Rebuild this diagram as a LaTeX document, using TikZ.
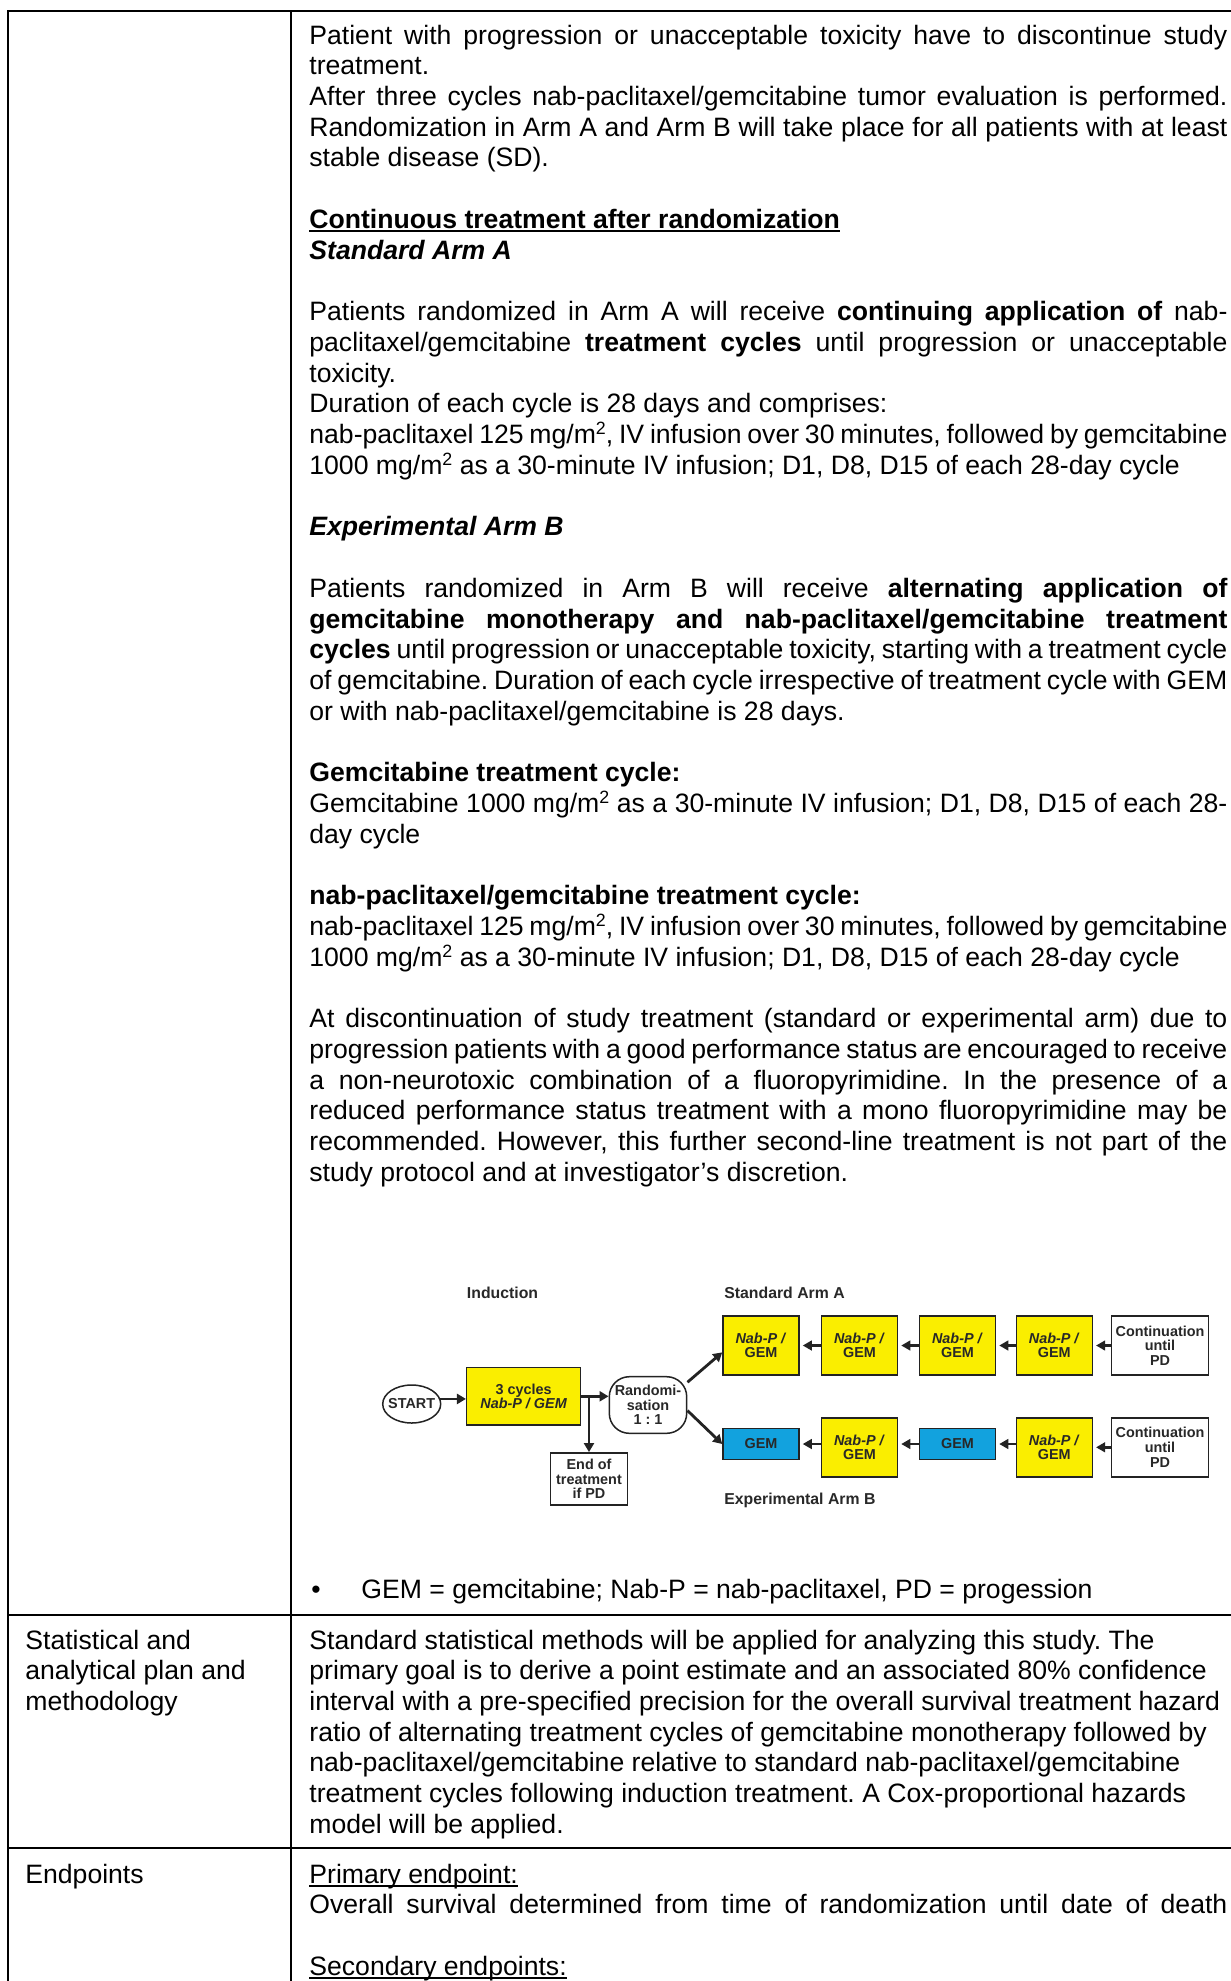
\documentclass[tikz,border=0pt]{standalone}
\usepackage{fontspec}
\setmainfont{Liberation Sans}
\usetikzlibrary{arrows.meta,shapes.geometric}

\definecolor{armyellow}{RGB}{250,238,0}
\definecolor{armblue}{RGB}{18,162,222}
\definecolor{diagtext}{RGB}{40,40,40}
\definecolor{diagline}{RGB}{35,35,35}

\frenchspacing
\newlength\colw \setlength\colw{459pt}
% full-width justified line
\newcommand\jl[1]{\makebox[\colw][s]{#1}}
% word-processor style underline
\newcommand\ulx[1]{\leavevmode\setbox0\hbox{#1}\rlap{\rule[-0.145em]{\wd0}{0.08em}}\box0}
% square metres
\newcommand\msq{m\raisebox{0.34em}{\fontsize{8.9pt}{9pt}\selectfont 2}}
\newcommand\bodyfont{\fontsize{13.3pt}{15.37pt}\selectfont}
\newcommand\diagfont{\fontsize{7.2pt}{7.3pt}\selectfont\bfseries}
\newcommand\labfont{\fontsize{7.9pt}{9pt}\selectfont\bfseries}

\tikzset{
  body/.style={anchor=base west, inner sep=0pt, font=\bodyfont},
  grid/.style={line width=1pt, line cap=rect},
  dnode/.style={draw=diagline, line width=0.75pt, inner sep=0pt, align=center, font=\diagfont, text=diagtext},
  cyc/.style={dnode, fill=armyellow, minimum width=38pt, minimum height=29.5pt},
  gem/.style={dnode, fill=armblue, minimum width=38pt, minimum height=15.7pt},
  cont/.style={dnode, fill=white, minimum width=48.5pt, minimum height=29.5pt},
  lab/.style={anchor=base, inner sep=0pt, font=\labfont, text=diagtext},
  flow/.style={draw=diagline, line width=1.4pt, -{Triangle[length=4.5pt,width=5pt]}},
  link/.style={draw=diagline, line width=1.2pt, -{Triangle[length=4.5pt,width=4.8pt]}, shorten >=1.5pt},
}

\begin{document}
\begin{tikzpicture}[x=0.5pt, y=-0.5pt]
\useasboundingbox (0,0) rectangle (1231,1981);
\fill[white] (0,0) rectangle (1231,1981);

% table rules
\draw[grid] (1231,11) -- (7.5,11) -- (7.5,1981);
\draw[grid] (291,11) -- (291,1981);
\draw[grid] (7.5,1615) -- (1231,1615);
\draw[grid] (7.5,1848) -- (1231,1848);

% treatment description
\node[body] (treat) at (309,44) {\parbox[t]{\colw}{\bodyfont
\jl{Patient with progression or unacceptable toxicity have to discontinue study}\\
treatment.\\
\jl{After three cycles nab-paclitaxel/gemcitabine tumor evaluation is performed.}\\
\jl{Randomization in Arm A and Arm B will take place for all patients with at least}\\
stable disease (SD).\\
\mbox{}\\
\textbf{\ulx{Continuous treatment after randomization}}\\
\textbf{\textit{Standard Arm A}}\\
\mbox{}\\
\jl{Patients randomized in Arm A will receive \textbf{continuing application of} nab-}\\
\jl{paclitaxel/gemcitabine \textbf{treatment cycles} until progression or unacceptable}\\
toxicity.\\
Duration of each cycle is 28 days and comprises:\\
\jl{nab-paclitaxel 125 mg/\msq, IV infusion over 30 minutes, followed by gemcitabine}\\
1000 mg/\msq{} as a 30-minute IV infusion; D1, D8, D15 of each 28-day cycle\\
\mbox{}\\
\textbf{\textit{Experimental Arm B}}\\
\mbox{}\\
\jl{Patients randomized in Arm B will receive \textbf{alternating application of}}\\
\jl{\textbf{gemcitabine monotherapy and nab-paclitaxel/gemcitabine treatment}}\\
\jl{\textbf{cycles} until progression or unacceptable toxicity, starting with a treatment cycle}\\
\jl{of gemcitabine. Duration of each cycle irrespective of treatment cycle with GEM}\\
or with nab-paclitaxel/gemcitabine is 28 days.\\
\mbox{}\\
\textbf{Gemcitabine treatment cycle:}\\
\jl{Gemcitabine 1000 mg/\msq{} as a 30-minute IV infusion; D1, D8, D15 of each 28-}\\
day cycle\\
\mbox{}\\
\textbf{nab-paclitaxel/gemcitabine treatment cycle:}\\
\jl{nab-paclitaxel 125 mg/\msq, IV infusion over 30 minutes, followed by gemcitabine}\\
1000 mg/\msq{} as a 30-minute IV infusion; D1, D8, D15 of each 28-day cycle\\
\mbox{}\\
\jl{At discontinuation of study treatment (standard or experimental arm) due to}\\
\jl{progression patients with a good performance status are encouraged to receive}\\
\jl{a non-neurotoxic combination of a fluoropyrimidine. In the presence of a}\\
\jl{reduced performance status treatment with a mono fluoropyrimidine may be}\\
\jl{recommended. However, this further second-line treatment is not part of the}\\
study protocol and at investigator’s discretion.}};

% study scheme
\node[lab] (induction) at (502.5,1298.4) {Induction};
\node[lab, anchor=base west] (armA) at (724,1298.7) {Standard Arm A};
\node[lab, anchor=base west] (armB) at (724,1504.5) {Experimental Arm B};

\node[dnode, ellipse, fill=white, minimum width=29pt, minimum height=19pt] (start) at (411.7,1404) {\makebox[0pt]{START}};
\node[cyc, minimum width=57pt, minimum height=28.7pt] (ind) at (523.7,1396.3) {3 cycles\\\textit{Nab-P / GEM}};
\node[dnode, fill=white, rounded corners=10pt, minimum width=38.7pt, minimum height=28.3pt] (rand) at (648,1405) {Randomi-\\sation\\1 : 1};
\node[dnode, fill=white, minimum width=38.3pt, minimum height=26.2pt] (eot) at (589,1479) {End of\\treatment\\if PD};

\node[cyc] (a1) at (761,1345.5) {\textit{Nab-P /}\\GEM};
\node[cyc] (a2) at (859.5,1345.5) {\textit{Nab-P /}\\GEM};
\node[cyc] (a3) at (957.5,1345.5) {\textit{Nab-P /}\\GEM};
\node[cyc] (a4) at (1054.3,1345.5) {\textit{Nab-P /}\\GEM};
\node[cont] (a5) at (1160,1345.5) {Continuation\\until\\PD};

\node[gem] (b1) at (761,1444) {GEM};
\node[cyc] (b2) at (859.5,1447.3) {\textit{Nab-P /}\\GEM};
\node[gem] (b3) at (957.5,1444) {GEM};
\node[cyc] (b4) at (1054.3,1447.3) {\textit{Nab-P /}\\GEM};
\node[cont] (b5) at (1160,1447.3) {Continuation\\until\\PD};

\draw[flow] (start.10) -- (start.10 -| ind.west);
\draw[flow] (ind.east) -- (ind.east -| rand.west);
\draw[flow] (ind.east -| eot.north) -- (eot.north);
\draw[flow] (rand.30) -- (a1.190);
\draw[flow] (rand.-8) -- (b1.west);

% links between successive cycles
\draw[link] (a2) -- (a1);
\draw[link] (a3) -- (a2);
\draw[link] (a4) -- (a3);
\draw[link] (a5) -- (a4);
\draw[link] (b2.west |- b1.east) -- (b1.east);
\draw[link] (b3.west) -- (b3.west -| b2.east);
\draw[link] (b4.west |- b3.east) -- (b3.east);
\draw[link] (b5) -- (b4);

% abbreviations
\node[body] (bullet) at (311,1598.5) {•};
\node[body] (abbr) at (361,1598.5) {GEM = gemcitabine; Nab-P = nab-paclitaxel, PD = progession};

% statistics row
\node[body] (stathead) at (25,1649) {\parbox[t]{250pt}{\bodyfont
Statistical and\\
analytical plan and\\
methodology}};
\node[body] (stattext) at (309,1649) {\parbox[t]{\colw}{\bodyfont
Standard statistical methods will be applied for analyzing this study. The\\
primary goal is to derive a point estimate and an associated 80\% confidence\\
interval with a pre-specified precision for the overall survival treatment hazard\\
ratio of alternating treatment cycles of gemcitabine monotherapy followed by\\
nab-paclitaxel/gemcitabine relative to standard nab-paclitaxel/gemcitabine\\
treatment cycles following induction treatment. A Cox-proportional hazards\\
model will be applied.}};

% endpoints row
\node[body] (endhead) at (25,1883) {Endpoints};
\node[body] (endtext) at (309,1883) {\parbox[t]{\colw}{\bodyfont
\ulx{Primary endpoint:}\\
\jl{Overall survival determined from time of randomization until date of death}\\
\mbox{}\\
\ulx{Secondary endpoints:}}};
\end{tikzpicture}
\end{document}
